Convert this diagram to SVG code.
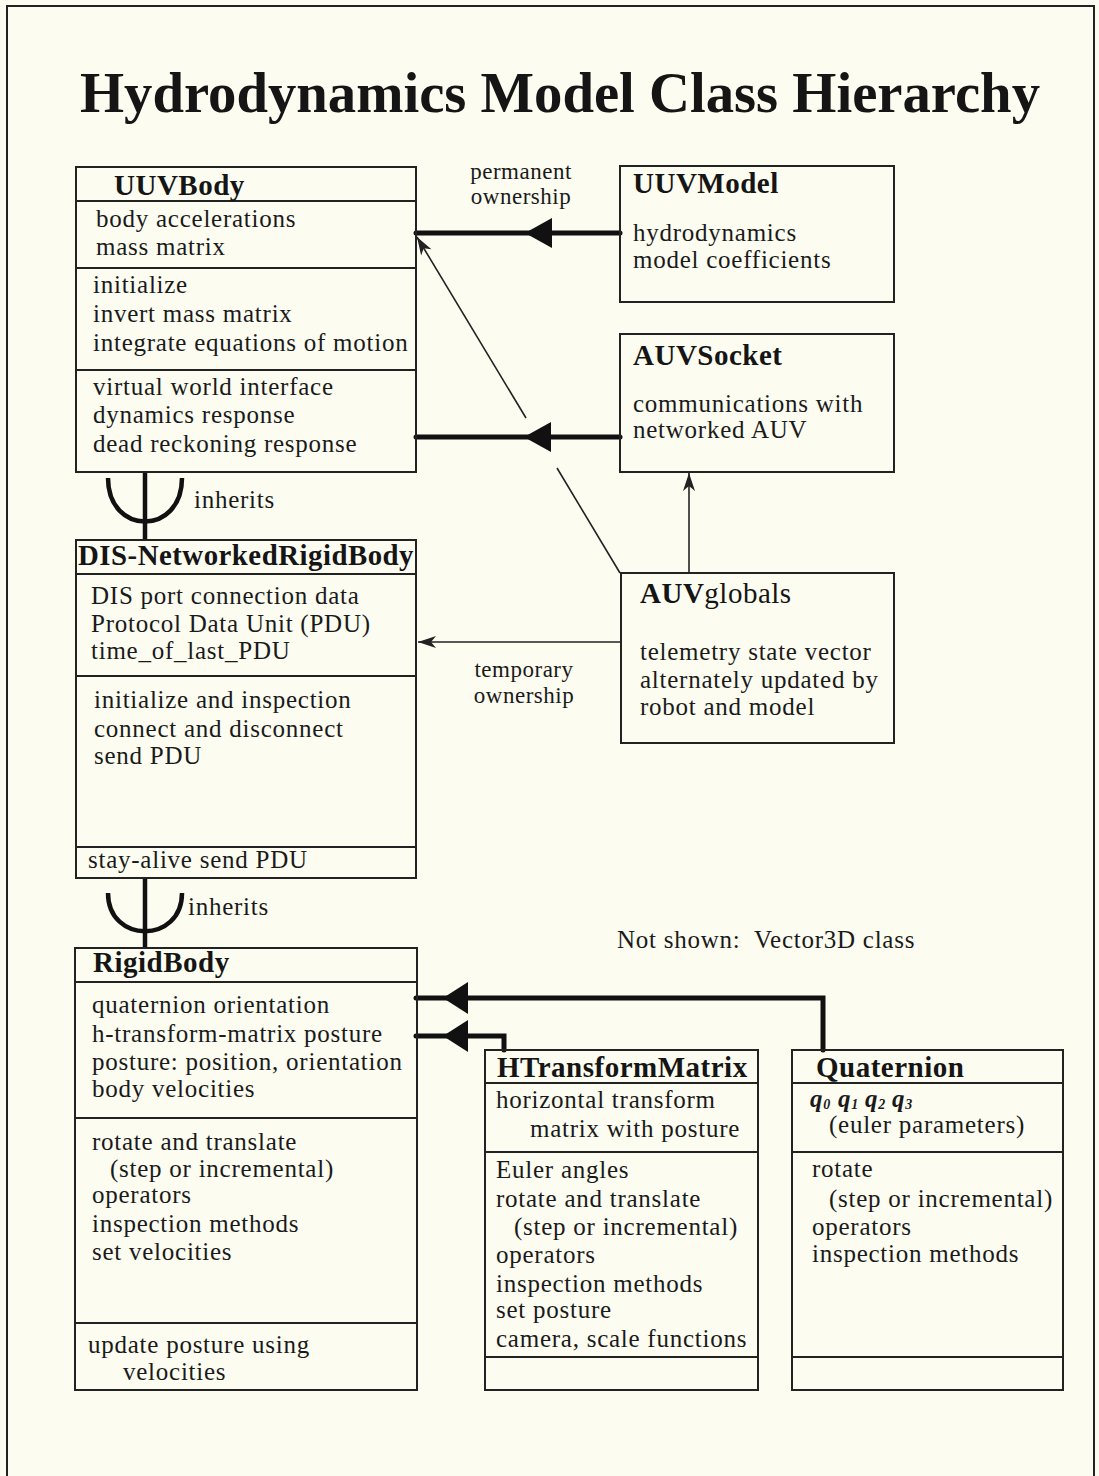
<svg xmlns="http://www.w3.org/2000/svg" width="1099" height="1476" viewBox="0 0 1099 1476">
<style>
.bg{fill:#fcfcf1}
.box{fill:none;stroke:#222;stroke-width:2}
.div{stroke:#222;stroke-width:2}
.t{font-family:"Liberation Serif","Times New Roman",serif;font-size:25px;letter-spacing:0.75px;fill:#1a1a1a}
.lbl{font-family:"Liberation Serif","Times New Roman",serif;font-size:23px;letter-spacing:0.5px;fill:#1a1a1a}
.h{font-family:"Liberation Serif","Times New Roman",serif;font-size:29px;font-weight:bold;letter-spacing:0.5px;fill:#151515}
.title{font-family:"Liberation Serif","Times New Roman",serif;font-size:56px;font-weight:bold;fill:#151515}
.thick{stroke:#111;stroke-width:5;fill:none;stroke-linecap:round}
.thin{stroke:#222;stroke-width:1.6;fill:none}
.inh{stroke:#111;stroke-width:4.5;fill:none}
.head{fill:#111}
</style>
<defs>
<marker id="arr" viewBox="-20 -7 20 14" refX="0" refY="0" markerWidth="20" markerHeight="14" markerUnits="userSpaceOnUse" orient="auto">
<path d="M0,0 L-18,-6 L-13,0 L-18,6 Z" fill="#222"/>
</marker>
</defs>
<rect class="bg" x="0" y="0" width="1099" height="1476"/>
<rect x="7" y="6" width="1087" height="1490" fill="none" stroke="#222" stroke-width="2"/>
<text class="title" x="560" y="112" text-anchor="middle" textLength="960" lengthAdjust="spacingAndGlyphs">Hydrodynamics Model Class Hierarchy</text>

<g id="connectors">
<line class="thick" x1="620" y1="233" x2="416" y2="233"/>
<polygon class="head" points="525,233 552,218 552,248"/>
<line class="thick" x1="620" y1="437" x2="416" y2="437"/>
<polygon class="head" points="524,437 551,422 551,452"/>
<line class="thin" x1="620" y1="573" x2="557" y2="468"/>
<line class="thin" x1="526" y1="418" x2="417" y2="237" marker-end="url(#arr)"/>
<line class="thin" x1="621" y1="642" x2="418" y2="642" marker-end="url(#arr)"/>
<line class="thin" x1="689" y1="573" x2="689" y2="473" marker-end="url(#arr)"/>
<path class="thick" d="M823,1050 V998 H416" stroke-linejoin="miter"/>
<polygon class="head" points="443,998 468,982 468,1014"/>
<path class="thick" d="M504,1050 V1036 H416" stroke-linejoin="miter"/>
<polygon class="head" points="443,1036 468,1020 468,1052"/>
<line class="inh" x1="145" y1="472" x2="145" y2="540"/>
<path class="inh" d="M108,478 C108,536 182,536 182,478"/>
<line class="inh" x1="145" y1="878" x2="145" y2="948"/>
<path class="inh" d="M108,893 C108,944 182,944 182,893"/>
<text class="lbl" x="521" y="179" text-anchor="middle">permanent</text>
<text class="lbl" x="521" y="204" text-anchor="middle">ownership</text>
<text class="t" x="194" y="508">inherits</text>
<text class="t" x="188" y="915">inherits</text>
<text class="lbl" x="524" y="677" text-anchor="middle">temporary</text>
<text class="lbl" x="524" y="703" text-anchor="middle">ownership</text>
</g>

<text class="t" x="617" y="948" xml:space="preserve">Not shown:  Vector3D class</text>

<g id="UUVBody">
<rect class="box" x="76" y="167" width="340" height="305"/>
<line class="div" x1="76" y1="201" x2="416" y2="201"/>
<line class="div" x1="76" y1="268" x2="416" y2="268"/>
<line class="div" x1="76" y1="370" x2="416" y2="370"/>
<text class="h" x="114" y="195">UUVBody</text>
<text class="t" x="96" y="227">body accelerations</text>
<text class="t" x="96" y="255">mass matrix</text>
<text class="t" x="93" y="293">initialize</text>
<text class="t" x="93" y="322">invert mass matrix</text>
<text class="t" x="93" y="351">integrate equations of motion</text>
<text class="t" x="93" y="395">virtual world interface</text>
<text class="t" x="93" y="423">dynamics response</text>
<text class="t" x="93" y="452">dead reckoning response</text>
</g>

<g id="UUVModel">
<rect class="box" x="620" y="166" width="274" height="136"/>
<text class="h" x="633" y="193">UUVModel</text>
<text class="t" x="633" y="241">hydrodynamics</text>
<text class="t" x="633" y="268">model coefficients</text>
</g>

<g id="AUVSocket">
<rect class="box" x="620" y="334" width="274" height="138"/>
<text class="h" x="633" y="365">AUVSocket</text>
<text class="t" x="633" y="412">communications with</text>
<text class="t" x="633" y="438">networked AUV</text>
</g>

<g id="AUVglobals">
<rect class="box" x="621" y="573" width="273" height="170"/>
<text class="h" x="640" y="603">AUV<tspan font-weight="normal">globals</tspan></text>
<text class="t" x="640" y="660">telemetry state vector</text>
<text class="t" x="640" y="688">alternately updated by</text>
<text class="t" x="640" y="715">robot and model</text>
</g>

<g id="DISNetworkedRigidBody">
<rect class="box" x="76" y="540" width="340" height="338"/>
<line class="div" x1="76" y1="574" x2="416" y2="574"/>
<line class="div" x1="76" y1="676" x2="416" y2="676"/>
<line class="div" x1="76" y1="847" x2="416" y2="847"/>
<text class="h" x="78" y="565" textLength="336" lengthAdjust="spacingAndGlyphs">DIS-NetworkedRigidBody</text>
<text class="t" x="91" y="604">DIS port connection data</text>
<text class="t" x="91" y="632">Protocol Data Unit (PDU)</text>
<text class="t" x="91" y="659">time_of_last_PDU</text>
<text class="t" x="94" y="708">initialize and inspection</text>
<text class="t" x="94" y="737">connect and disconnect</text>
<text class="t" x="94" y="764">send PDU</text>
<text class="t" x="88" y="868">stay-alive send PDU</text>
</g>

<g id="RigidBody">
<rect class="box" x="75" y="948" width="342" height="442"/>
<line class="div" x1="75" y1="982" x2="417" y2="982"/>
<line class="div" x1="75" y1="1118" x2="417" y2="1118"/>
<line class="div" x1="75" y1="1323" x2="417" y2="1323"/>
<text class="h" x="93" y="972">RigidBody</text>
<text class="t" x="92" y="1013">quaternion orientation</text>
<text class="t" x="92" y="1042">h-transform-matrix posture</text>
<text class="t" x="92" y="1070">posture: position, orientation</text>
<text class="t" x="92" y="1097">body velocities</text>
<text class="t" x="92" y="1150">rotate and translate</text>
<text class="t" x="110" y="1177">(step or incremental)</text>
<text class="t" x="92" y="1203">operators</text>
<text class="t" x="92" y="1232">inspection methods</text>
<text class="t" x="92" y="1260">set velocities</text>
<text class="t" x="88" y="1353">update posture using</text>
<text class="t" x="123" y="1380">velocities</text>
</g>

<g id="HTransformMatrix">
<rect class="box" x="485" y="1050" width="273" height="340"/>
<line class="div" x1="485" y1="1083" x2="758" y2="1083"/>
<line class="div" x1="485" y1="1152" x2="758" y2="1152"/>
<line class="div" x1="485" y1="1357" x2="758" y2="1357"/>
<text class="h" x="497" y="1077">HTransformMatrix</text>
<text class="t" x="496" y="1108">horizontal transform</text>
<text class="t" x="530" y="1137">matrix with posture</text>
<text class="t" x="496" y="1178">Euler angles</text>
<text class="t" x="496" y="1207">rotate and translate</text>
<text class="t" x="514" y="1235">(step or incremental)</text>
<text class="t" x="496" y="1263">operators</text>
<text class="t" x="496" y="1292">inspection methods</text>
<text class="t" x="496" y="1318">set posture</text>
<text class="t" x="496" y="1347">camera, scale functions</text>
</g>

<g id="Quaternion">
<rect class="box" x="792" y="1050" width="271" height="340"/>
<line class="div" x1="792" y1="1083" x2="1063" y2="1083"/>
<line class="div" x1="792" y1="1152" x2="1063" y2="1152"/>
<line class="div" x1="792" y1="1357" x2="1063" y2="1357"/>
<text class="h" x="816" y="1077">Quaternion</text>
<text class="t" y="1107" font-weight="bold" font-style="italic"><tspan x="810">q</tspan><tspan font-size="14" dy="2">0</tspan><tspan x="838" dy="-2">q</tspan><tspan font-size="14" dy="2">1</tspan><tspan x="865" dy="-2">q</tspan><tspan font-size="14" dy="2">2</tspan><tspan x="892" dy="-2">q</tspan><tspan font-size="14" dy="2">3</tspan></text>
<text class="t" x="829" y="1133">(euler parameters)</text>
<text class="t" x="812" y="1177">rotate</text>
<text class="t" x="829" y="1207">(step or incremental)</text>
<text class="t" x="812" y="1235">operators</text>
<text class="t" x="812" y="1262">inspection methods</text>
</g>
</svg>
